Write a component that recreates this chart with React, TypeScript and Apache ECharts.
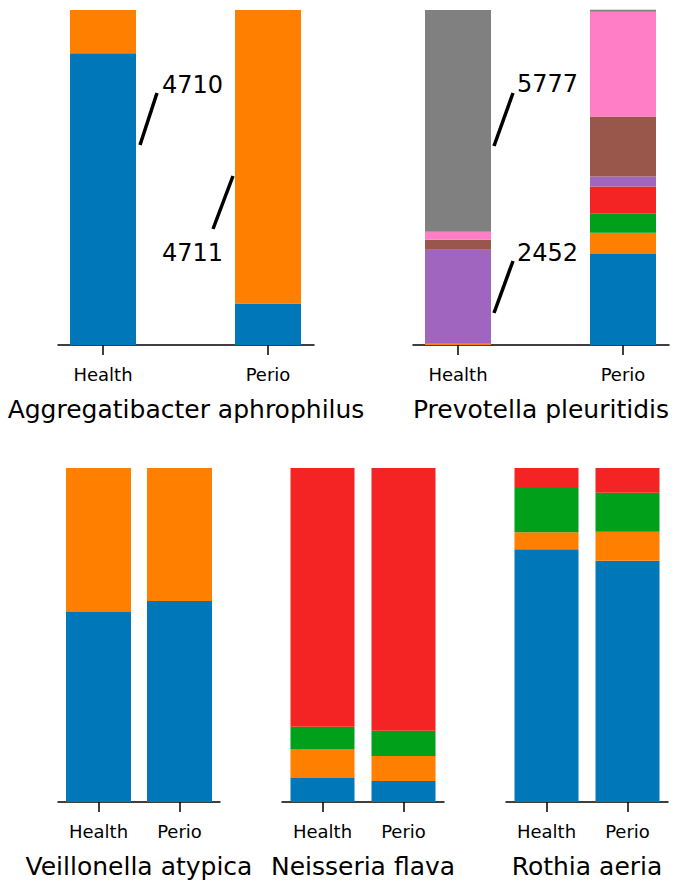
import React, { useEffect, useRef } from "react";
import * as echarts from "echarts";

// ---------- data ----------
const groups = ["Health", "Perio"];

const speciesNames = [
  "Aggregatibacter aphrophilus",
  "Prevotella pleuritidis",
  "Veillonella atypica",
  "Neisseria flava",
  "Rothia aeria",
];

// relative abundance fractions per group [Health, Perio], stacked bottom -> top
const aggBlue = [0.871, 0.124];
const aggOrange = [0.129, 0.876];

const prevBlue = [0, 0.272];
const prevOrange = [0.006, 0.063];
const prevGreen = [0, 0.057];
const prevRed = [0, 0.081];
const prevPurple = [0.278, 0.03];
const prevBrown = [0.03, 0.179];
const prevPink = [0.024, 0.313];
const prevGray = [0.662, 0.006];

const veilBlue = [0.569, 0.602];
const veilOrange = [0.431, 0.398];

const neisBlue = [0.072, 0.063];
const neisOrange = [0.087, 0.075];
const neisGreen = [0.066, 0.075];
const neisRed = [0.775, 0.787];

const rothBlue = [0.757, 0.722];
const rothOrange = [0.051, 0.087];
const rothGreen = [0.132, 0.117];
const rothRed = [0.06, 0.074];

const annotationValues = ["4710", "4711", "5777", "2452"];

// ---------- styles ----------
const C = {
  blue: "#0077b8",
  orange: "#ff7f00",
  green: "#00a01a",
  red: "#f42424",
  purple: "#a066bf",
  brown: "#99564a",
  pink: "#ff7ec6",
  gray: "#808080",
};

const FONT = "DejaVu Sans";

const panelStacks = [
  [
    { c: C.blue, v: aggBlue },
    { c: C.orange, v: aggOrange },
  ],
  [
    { c: C.blue, v: prevBlue },
    { c: C.orange, v: prevOrange },
    { c: C.green, v: prevGreen },
    { c: C.red, v: prevRed },
    { c: C.purple, v: prevPurple },
    { c: C.brown, v: prevBrown },
    { c: C.pink, v: prevPink },
    { c: C.gray, v: prevGray },
  ],
  [
    { c: C.blue, v: veilBlue },
    { c: C.orange, v: veilOrange },
  ],
  [
    { c: C.blue, v: neisBlue },
    { c: C.orange, v: neisOrange },
    { c: C.green, v: neisGreen },
    { c: C.red, v: neisRed },
  ],
  [
    { c: C.blue, v: rothBlue },
    { c: C.orange, v: rothOrange },
    { c: C.green, v: rothGreen },
    { c: C.red, v: rothRed },
  ],
];

// bars: category grid; line: visible baseline grid
const layout = [
  { bars: [103, 165], gap: false, line: [58, 256], top: 10, height: 335, bw: 66 },
  { bars: [458, 165], gap: false, line: [413, 256], top: 10, height: 335, bw: 66 },
  { bars: [58, 162], gap: true, line: [58, 162], top: 468, height: 334, bw: 65 },
  { bars: [282, 162], gap: true, line: [282, 162], top: 468, height: 334, bw: 64 },
  { bars: [506, 162], gap: true, line: [506, 162], top: 468, height: 334, bw: 64 },
];

const annotationLayout = [
  { line: [140, 145, 157, 93], text: [162, 85] },
  { line: [233, 176, 213, 229], text: [162, 253] },
  { line: [494, 146, 513, 93], text: [517, 84] },
  { line: [494, 313, 513, 261], text: [517, 253] },
];

export default function App() {
  const ref = useRef<HTMLDivElement>(null);

  useEffect(() => {
    if (!ref.current) return;
    const chart = echarts.init(ref.current, undefined, { renderer: "svg" });

    const grid: any[] = [];
    const xAxis: any[] = [];
    const yAxis: any[] = [];

    layout.forEach((l, p) => {
      grid.push({ left: l.bars[0], width: l.bars[1], top: l.top, height: l.height });
      grid.push({ left: l.line[0], width: l.line[1], top: l.top, height: l.height });

      xAxis.push({
        type: "category",
        gridIndex: 2 * p,
        data: groups,
        boundaryGap: l.gap,
        axisLine: { show: false },
        axisTick: {
          show: true,
          alignWithLabel: true,
          length: 10,
          lineStyle: { color: "#000", width: 1.5 },
        },
        axisLabel: {
          show: true,
          margin: 20,
          fontFamily: FONT,
          fontSize: 18,
          color: "#000",
        },
        splitLine: { show: false },
      });
      xAxis.push({
        type: "value",
        gridIndex: 2 * p + 1,
        min: 0,
        max: 1,
        name: speciesNames[p],
        nameLocation: "middle",
        nameGap: 52,
        nameTextStyle: { fontFamily: FONT, fontSize: 25, color: "#000" },
        axisLine: { show: true, onZero: false, lineStyle: { color: "#000", width: 1.5 } },
        axisTick: { show: false },
        axisLabel: { show: false },
        splitLine: { show: false },
      });

      yAxis.push({ type: "value", gridIndex: 2 * p, min: 0, max: 1, show: false, splitLine: { show: false } });
      yAxis.push({ type: "value", gridIndex: 2 * p + 1, min: 0, max: 1, show: false, splitLine: { show: false } });
    });

    const series: any[] = [];
    panelStacks.forEach((stack, p) => {
      stack.forEach((s, k) => {
        series.push({
          type: "bar",
          name: `p${p}-${k}`,
          xAxisIndex: 2 * p,
          yAxisIndex: 2 * p,
          stack: `panel${p}`,
          barWidth: layout[p].bw,
          clip: false,
          itemStyle: { color: s.c },
          data: s.v,
        });
      });
    });

    const graphic: any[] = [];
    annotationValues.forEach((txt, i) => {
      const a = annotationLayout[i];
      graphic.push({
        type: "line",
        shape: { x1: a.line[0], y1: a.line[1], x2: a.line[2], y2: a.line[3] },
        style: { stroke: "#000", lineWidth: 3.5 },
        z: 100,
      });
      graphic.push({
        type: "text",
        x: a.text[0],
        y: a.text[1],
        style: {
          text: txt,
          fontFamily: FONT,
          fontSize: 24,
          fill: "#000",
          align: "left",
          verticalAlign: "middle",
        },
        z: 100,
      });
    });

    chart.setOption({
      animation: false,
      backgroundColor: "#fff",
      grid,
      xAxis,
      yAxis,
      series,
      graphic,
    });

    return () => chart.dispose();
  }, []);

  return (
    <div
      ref={ref}
      style={{ position: "fixed", left: 0, top: 0, width: 679, height: 884 }}
    />
  );
}
